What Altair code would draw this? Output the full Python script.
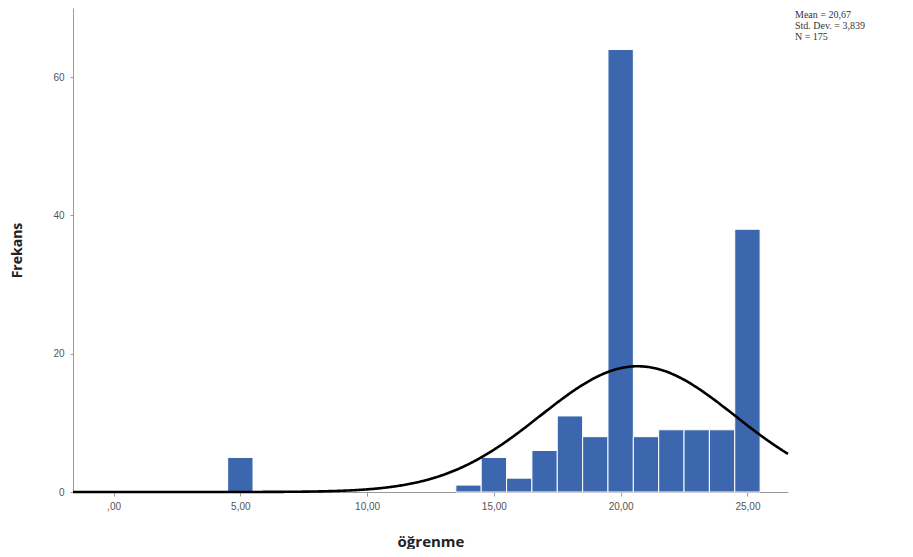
import altair as alt
import pandas as pd

# Histogram data (bin centres, bin width 1)
bin_centers = [5, 14, 15, 16, 17, 18, 19, 20, 21, 22, 23, 24, 25]
counts = [5, 1, 5, 2, 6, 11, 8, 64, 8, 9, 9, 9, 38]
bin_width = 1.0

# Summary statistics printed on the chart
stat_labels = ["Mean", "Std. Dev.", "N"]
stat_texts = ["20,67", "3,839", "175"]
mean_val, sd_val, n_val = 20.67, 3.839, 175

# Axes
x_domain = [-1.6, 26.6]
y_domain = [0, 70]
x_ticks = [0, 5, 10, 15, 20, 25]
x_tick_labels = [",00", "5,00", "10,00", "15,00", "20,00", "25,00"]
y_ticks = [0, 20, 40, 60]

bars_df = pd.DataFrame({
    "center": bin_centers,
    "count": counts,
})
bars_df["x0"] = bars_df["center"] - bin_width / 2
bars_df["x1"] = bars_df["center"] + bin_width / 2

label_expr = "''"
for v, lab in reversed(list(zip(x_ticks, x_tick_labels))):
    label_expr = f"datum.value == {v} ? '{lab}' : ({label_expr})"

x_scale = alt.Scale(domain=x_domain, nice=False, zero=False)
y_scale = alt.Scale(domain=y_domain, nice=False)

x_axis = alt.Axis(
    title="öğrenme", values=x_ticks, labelExpr=label_expr,
    grid=False, domainColor="#9a9a9a", tickColor="#9a9a9a", tickSize=4,
    labelColor="#555555", labelFontSize=10, labelFont="Liberation Sans",
    labelPadding=5, titleFont="Open Sans", titleFontSize=15, titleFontWeight="bold",
    titleColor="#222222", titlePadding=23,
)
y_axis = alt.Axis(
    title="Frekans", values=y_ticks, grid=False,
    domainColor="#9a9a9a", tickColor="#9a9a9a", tickSize=3,
    labelColor="#555555", labelFontSize=10, labelFont="Liberation Sans",
    labelPadding=6, titleFont="Open Sans", titleFontSize=14, titleFontWeight="bold",
    titleColor="#222222", titlePadding=28,
)

bars = alt.Chart(bars_df).mark_bar(
    color="#3c67ae", stroke="white", strokeWidth=1
).encode(
    x=alt.X("x0:Q", scale=x_scale, axis=x_axis),
    x2="x1:Q",
    y=alt.Y("count:Q", scale=y_scale, axis=y_axis),
    y2=alt.datum(0),
)

curve = alt.Chart(alt.sequence(x_domain[0], x_domain[1] + 0.01, 0.05, as_="x")).transform_calculate(
    y=f"{n_val} * {bin_width} / ({sd_val} * sqrt(2 * PI)) * exp(-0.5 * pow((datum.x - {mean_val}) / {sd_val}, 2))"
).mark_line(color="black", strokeWidth=2.6).encode(
    x=alt.X("x:Q", scale=x_scale),
    y=alt.Y("y:Q", scale=y_scale),
)

stat_lines = [f"{l} = {t}" for l, t in zip(stat_labels, stat_texts)]
text_df = pd.DataFrame({"t": ["\n".join(stat_lines)]})
stats = alt.Chart(text_df).mark_text(
    align="left", baseline="top", lineBreak="\n", font="Liberation Serif",
    fontSize=10, color="#333333", lineHeight=11,
).encode(
    text="t:N",
    x=alt.value(722),
    y=alt.value(2),
)

chart = alt.layer(bars, curve, stats).properties(
    width=715, height=484,
    background="white",
    autosize=alt.AutoSizeParams(type="none"),
    padding={"left": 65, "top": 0, "right": 110, "bottom": 57},
).configure_view(stroke=None)

chart.save("out.html", embed_options={"renderer": "svg", "actions": False})
